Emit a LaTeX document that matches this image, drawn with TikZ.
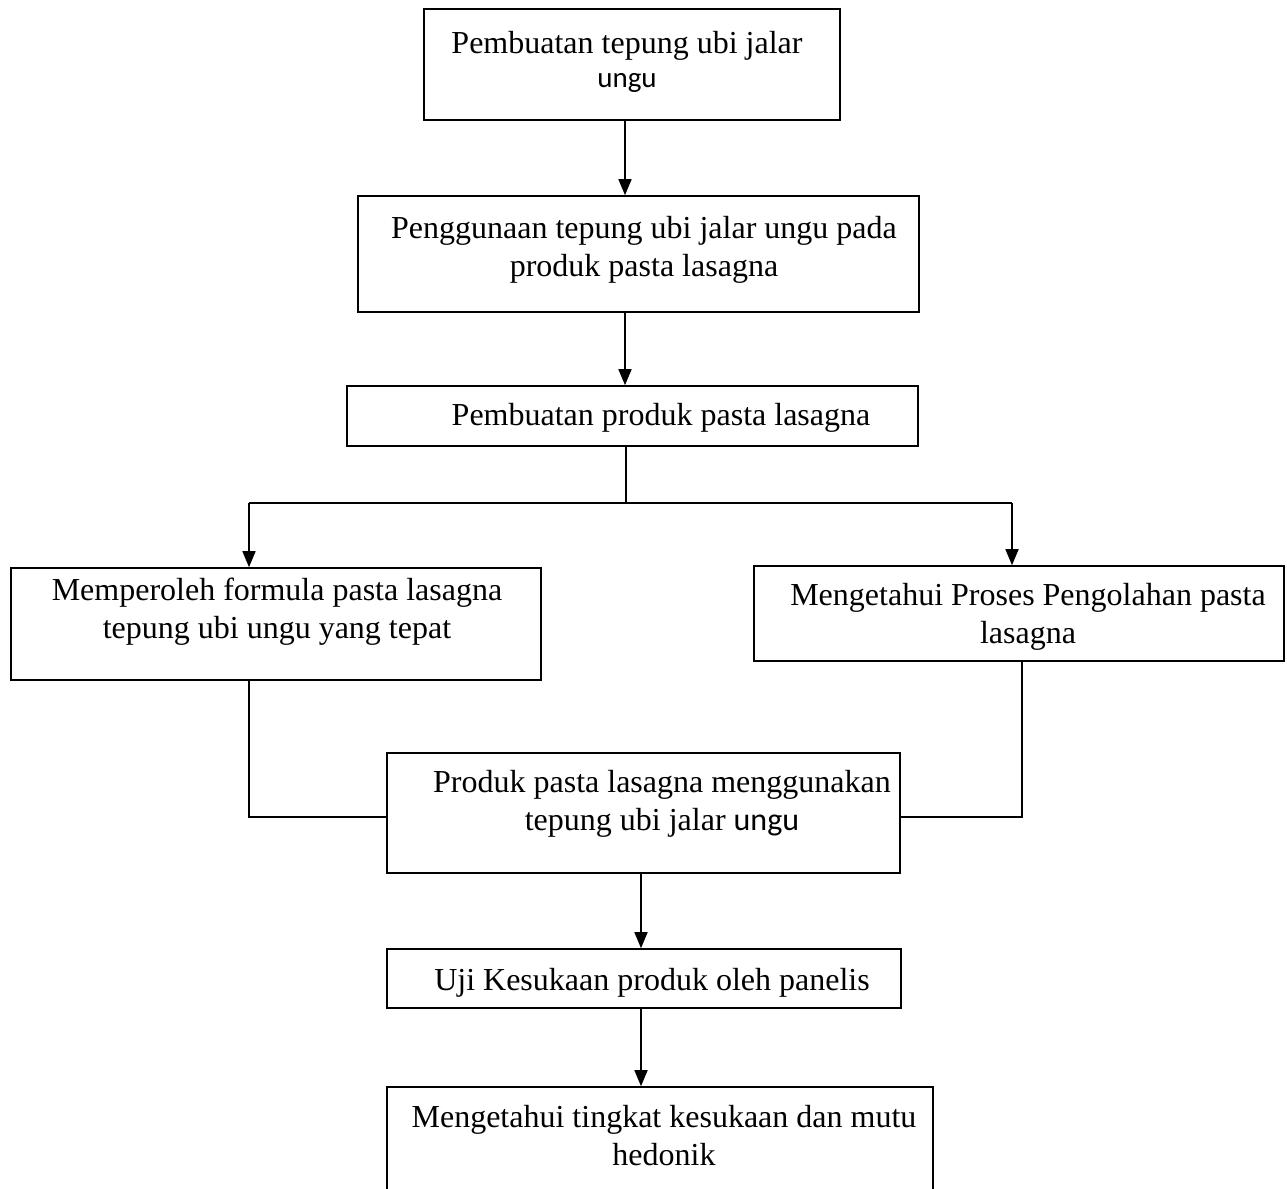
\documentclass[tikz,border=0pt]{standalone}
\usepackage{fontspec}
\setmainfont{Liberation Serif}
\newfontfamily\calib{Carlito}
\usetikzlibrary{arrows.meta}
\begin{document}
\begin{tikzpicture}[x=1pt,y=-1pt,
  box/.style={draw=black,line width=1.6pt,inner sep=0pt,rectangle},
  txt/.style={inner sep=0pt,align=center,font=\fontsize{32}{38}\selectfont},
  link/.style={line width=1.6pt},
  arr/.style={line width=1.6pt,-{Triangle[length=16pt,width=13pt]}}]
\useasboundingbox (0,0) rectangle (1287,1188);
\clip (0,0) rectangle (1287,1188);
\fill[white] (0,0) rectangle (1287,1188);
% boxes
\node[box,minimum width=416pt,minimum height=111pt] (b1) at (632,64.5) {};
\node[box,minimum width=561pt,minimum height=116pt] (b2) at (638.5,254) {};
\node[box,minimum width=571pt,minimum height=60pt] (b3) at (632.5,416) {};
\node[box,minimum width=530pt,minimum height=112pt] (b4) at (276,624) {};
\node[box,minimum width=530pt,minimum height=95pt] (b5) at (1019,613.5) {};
\node[box,minimum width=513pt,minimum height=120pt] (b6) at (643.5,813) {};
\node[box,minimum width=514pt,minimum height=59pt] (b7) at (644,978.5) {};
\node[box,minimum width=546pt,minimum height=153pt] (b8) at (660,1163.5) {};
% texts
\node[txt] (t1) at (627,62) {Pembuatan tepung ubi jalar\\[-4pt]{\calib\fontsize{29}{34}\selectfont ungu}};
\node[txt] (t2) at (644,250) {Penggunaan tepung ubi jalar ungu pada\\produk pasta lasagna};
\node[txt] (t3) at (661,418) {Pembuatan produk pasta lasagna};
\node[txt] (t4) at (277,612) {Memperoleh formula pasta lasagna\\tepung ubi ungu yang tepat};
\node[txt] (t5) at (1028,617) {Mengetahui Proses Pengolahan pasta\\lasagna};
\node[txt] (t6) at (662,804) {Produk pasta lasagna menggunakan\\tepung ubi jalar {\calib ungu}};
\node[txt] (t7) at (652,983) {Uji Kesukaan produk oleh panelis};
\node[txt] (t8) at (664,1136) {Mengetahui tingkat kesukaan dan mutu\\hedonik};
% guide coordinates
\coordinate (xa) at (625,0);
\coordinate (xs) at (626,0);
\coordinate (xl) at (249,0);
\coordinate (xr) at (1012,0);
\coordinate (xr2) at (1022,0);
\coordinate (xb) at (641,0);
\coordinate (ysplit) at (0,503);
\coordinate (yjoin) at (0,817);
% connectors
\draw[arr] (b1.south -| xa) -- (b2.north -| xa);
\draw[arr] (b2.south -| xa) -- (b3.north -| xa);
\draw[link] (b3.south -| xs) -- (xs |- ysplit);
\draw[link] (xl |- ysplit) -- (xr |- ysplit);
\draw[arr] (xl |- ysplit) -- (b4.north -| xl);
\draw[arr] (xr |- ysplit) -- (b5.north -| xr);
\draw[link] (b4.south -| xl) -- (xl |- yjoin) -- (b6.west |- yjoin);
\draw[link] (b5.south -| xr2) -- (xr2 |- yjoin) -- (b6.east |- yjoin);
\draw[arr] (b6.south -| xb) -- (b7.north -| xb);
\draw[arr] (b7.south -| xb) -- (b8.north -| xb);
\end{tikzpicture}
\end{document}
